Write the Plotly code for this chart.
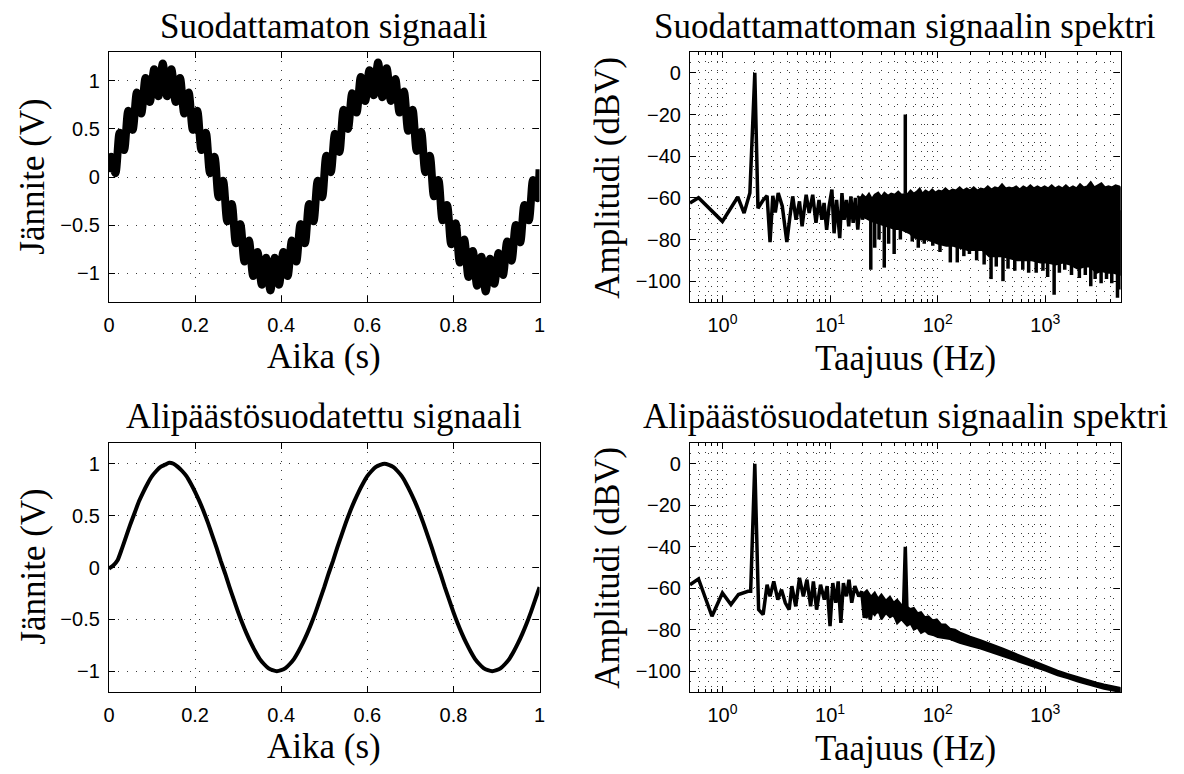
import plotly.graph_objects as go

# ---------------- data ----------------
# Unfiltered signal (time in s, voltage in V), read at the 50 Hz ripple peaks/troughs
t_raw = [0.0] + [round(0.005 + 0.01 * k, 3) for k in range(100)] + [1.0]
v_raw = [0.05,
         0.21, 0.04, 0.46, 0.28, 0.69, 0.49, 0.88, 0.66, 1.03, 0.78, 1.12, 0.84, 1.18, 0.84, 1.12, 0.78,
         1.03, 0.66, 0.88, 0.49, 0.69, 0.28, 0.46, 0.04, 0.21,
         -0.21, -0.04, -0.46, -0.28, -0.69, -0.49, -0.88, -0.66, -1.03, -0.78, -1.12, -0.84, -1.18,
         -0.84, -1.12, -0.78, -1.03, -0.66, -0.88, -0.49, -0.69, -0.28, -0.46, -0.04, -0.21,
         0.22, 0.05, 0.45, 0.26, 0.70, 0.50, 0.87, 0.67, 1.04, 0.79, 1.11, 0.85, 1.19, 0.83, 1.13, 0.79,
         1.02, 0.67, 0.89, 0.48, 0.70, 0.27, 0.47, 0.05, 0.22,
         -0.20, -0.03, -0.45, -0.29, -0.70, -0.48, -0.89, -0.65, -1.04, -0.77, -1.13, -0.83, -1.19,
         -0.85, -1.11, -0.79, -1.02, -0.67, -0.87, -0.50, -0.68, -0.29, -0.45, -0.03, -0.22,
         0.08]

# Low-pass filtered signal
t_filt = [round(0.01 * k, 2) for k in range(101)]
v_filt = [-0.01, 0.02, 0.07, 0.18, 0.30, 0.42, 0.53, 0.64, 0.73, 0.81, 0.88, 0.93, 0.97, 0.99, 1.01,
          1.00, 0.97, 0.93, 0.88, 0.81, 0.73, 0.64, 0.54, 0.43, 0.31, 0.19, 0.06, -0.06, -0.19, -0.31,
          -0.43, -0.54, -0.64, -0.73, -0.81, -0.88, -0.93, -0.97, -0.99, -1.00, -0.99, -0.97, -0.93,
          -0.88, -0.81, -0.73, -0.64, -0.54, -0.43, -0.31, -0.19, -0.06, 0.06, 0.19, 0.31, 0.43, 0.54,
          0.64, 0.73, 0.81, 0.88, 0.93, 0.97, 0.99, 1.00, 0.99, 0.97, 0.93, 0.88, 0.81, 0.73, 0.64,
          0.54, 0.43, 0.31, 0.19, 0.06, -0.06, -0.19, -0.31, -0.43, -0.54, -0.64, -0.73, -0.81, -0.88,
          -0.93, -0.97, -0.99, -1.00, -0.99, -0.97, -0.93, -0.88, -0.81, -0.73, -0.64, -0.54, -0.43,
          -0.31, -0.19]

# Spectrum of unfiltered signal (Hz, dBV): resolved low-frequency part
spec1_f = [0.5, 0.6, 1.0, 1.39, 1.59, 1.8, 2.0, 2.14, 2.4, 2.6, 2.77, 2.94, 3.1, 3.3, 3.6, 3.97, 4.24,
           4.5, 4.83, 5.2, 5.5, 6.0, 6.4, 6.9, 7.4, 7.9, 8.4, 8.8, 9.3, 9.8, 10.4, 10.9, 11.5, 12.3,
           12.9, 13.5, 14.2, 14.9, 15.6, 16.4, 17.2, 18.1, 19.1, 20.0, 21.0]
spec1_db = [-62.5, -60, -71.3, -59.6, -67.3, -57.7, 0, -65, -61, -59, -81.3, -59, -67, -57.7, -64,
            -81.2, -69, -59.3, -70.5, -61.7, -73.7, -58.5, -67.3, -58.5, -72, -61, -70.5, -62.5,
            -75.3, -64, -56, -77, -61, -79.3, -57.7, -70.5, -61, -73.7, -59.3, -72, -60, -75.3,
            -59.3, -70.5, -60]
# dense noise floor: upper envelope
env1_top_f = [18, 19, 20, 21.5, 23, 24.5, 26, 28, 30, 32, 34.5, 37, 40, 43, 46, 53, 56, 60, 64, 68,
              72, 77, 83, 89, 95, 102, 110, 118, 127, 137, 148, 160, 172, 186, 200, 216, 233, 251,
              271, 292, 315, 340, 367, 396, 427, 460, 497, 536, 578, 624, 673, 726, 783, 845, 912,
              984, 1061, 1145, 1235, 1333, 1438, 1551, 1674, 1806, 1948, 2102, 2268, 2447, 2640,
              2848, 3073, 3315, 3577, 3859, 4163, 4492, 4846, 5000]
env1_top_db = [-59, -61, -58.5, -60, -58, -60.5, -58.5, -57.5, -59.5, -57.5, -59, -58, -58.5, -57,
               -58.5, -58, -56.5, -58, -57, -55.5, -58, -56.5, -57.5, -56, -57.5, -56.5, -57, -55.5,
               -57, -56, -56.5, -55, -56.5, -55.5, -56.5, -55, -56.5, -55.5, -56, -54.5, -56, -55,
               -55.5, -53.5, -55.5, -55, -55.5, -54.5, -56, -54.5, -55.5, -54, -55.5, -54.5, -55.5,
               -54.5, -55.5, -54, -55.5, -54.5, -55.5, -54, -55.5, -54.5, -55.5, -53.5, -55, -54.5,
               -52.5, -55, -54, -53, -55, -54.5, -55, -54, -54.5, -55]
# dense noise floor: lower envelope
env1_bot_f = [18, 20, 22, 24, 27, 30, 35, 40, 45, 55, 60, 70, 80, 90, 100, 120, 140, 160, 190, 220,
              260, 300, 350, 400, 470, 550, 650, 750, 900, 1050, 1250, 1450, 1700, 2000, 2300,
              2600, 3000, 3300, 3800, 4300, 5000]
env1_bot_db = [-66, -69, -70, -71, -72, -73, -74, -75, -75, -77, -79, -80, -80, -81, -82, -83, -83,
               -84, -85, -85, -85, -88, -88, -88, -89, -90, -90, -90, -91, -91, -92, -91, -92, -94,
               -93, -93, -96, -95, -96, -96, -97]
# deep downward noise spikes
spike1_f = [23.9, 26, 28.5, 31.9, 35, 39.4, 45, 58, 66, 75, 90, 105, 131, 152, 175, 197, 230, 270,
            313, 350, 404, 450, 520, 617, 700, 822, 950, 1050, 1207, 1350, 1514, 1750, 2070, 2350,
            2642, 2900, 3296, 3700, 4140, 4680, 4900]
spike1_db = [-94.5, -84, -80, -93.5, -82, -87, -80, -81, -84, -82, -83, -86, -91, -91, -88, -87, -90,
             -92, -99, -93, -100, -94, -95, -94.5, -96, -96, -95, -98, -106.5, -96, -94.5, -97,
             -98.5, -97, -102.5, -99, -101, -99, -101, -108, -104]
# 50 Hz interference peak
peak1_f = [50]
peak1_db = [-20]

# Spectrum of filtered signal
spec2_f = [0.5, 0.6, 0.8, 1.0, 1.2, 1.41, 1.73, 1.83, 2.0, 2.17, 2.39, 2.6, 2.77, 3.0, 3.27, 3.54,
           3.84, 4.17, 4.42, 4.8, 5.2, 5.65, 6.1, 6.6, 7.0, 7.5, 8.16, 8.85, 9.4, 10.0, 10.6, 11.3,
           11.9, 12.6, 13.3, 14.2, 15.0, 15.9, 17.0, 18.5, 19.7, 20.8, 22, 23.6, 25.5, 27.7, 30,
           32.7, 36, 40, 44.6, 48, 50, 52, 55, 58, 62, 66]
spec2_db = [-58.3, -55.5, -73.5, -62.3, -67.9, -63, -61.5, -61.5, 0, -70.3, -72.7, -58.3, -63.9,
            -56.7, -65.5, -60.7, -67, -70.3, -59, -68.7, -55, -63.9, -55.9, -68.7, -56.7, -70.3,
            -58.3, -65.5, -59, -78.3, -57.5, -67, -56.7, -76.7, -57.5, -63.9, -55.9, -67, -59,
            -63.9, -61.5, -74.3, -63.9, -75.1, -65.5, -71.9, -67, -70.3, -69.5, -73.5, -71, -72,
            -40, -73.5, -70, -77, -73, -79]
env2_top_f = [20, 22, 24, 26, 28, 30, 33, 36, 39, 42, 46, 52, 56, 60, 65, 70, 76, 82, 90, 98, 108,
              118, 130, 145, 160, 180, 200, 250, 320, 400, 500, 650, 800, 1000, 1300, 1600, 2000,
              2500, 3000, 3500, 4000, 4500, 5000]
env2_top_db = [-63, -61, -64, -62, -65, -63, -66, -64, -67, -65.5, -68, -69, -70, -69.5, -72, -71.5,
               -74, -73.5, -75.5, -75, -77.5, -77.5, -79.5, -80, -81.3, -82.5, -83.3, -85, -87, -89,
               -91.1, -93.5, -95.4, -97.3, -99.7, -101.3, -102.9, -104.4, -105.5, -106.4, -107.1,
               -107.6, -108]
env2_bot_f = [20, 22, 24, 26, 28, 30, 33, 36, 39, 42, 46, 52, 56, 60, 65, 70, 76, 82, 90, 100, 110,
              130, 160, 200, 250, 320, 400, 500, 650, 800, 1000, 1300, 1600, 2000, 2500, 3000, 3500,
              4000, 4500, 5000]
env2_bot_db = [-70, -74, -71, -73, -70.5, -75, -72, -74, -73, -77, -75, -78, -77, -80, -79, -81.5,
               -80.5, -82, -82.5, -83.5, -83.8, -84.5, -86.3, -87.7, -89, -91, -92.6, -94.3, -96.5,
               -98, -99.7, -101.9, -103.3, -104.9, -106.4, -107.5, -108.4, -109.1, -109.6, -110]

titles = ["Suodattamaton signaali", "Suodattamattoman signaalin spektri",
          "Alipäästösuodatettu signaali", "Alipäästösuodatetun signaalin spektri"]
time_ticks = [0, 0.2, 0.4, 0.6, 0.8, 1]
volt_ticks = [-1, -0.5, 0, 0.5, 1]
freq_ticks = [1, 10, 100, 1000]
freq_ticktext = ["10<sup>0</sup>", "10<sup>1</sup>", "10<sup>2</sup>", "10<sup>3</sup>"]
db_ticks = [-100, -80, -60, -40, -20, 0]

# ---------------- figure ----------------
W, H = 1184, 774
fig = go.Figure()

BLACK = "black"
# top-left
fig.add_trace(go.Scatter(x=t_raw, y=v_raw, mode="lines", xaxis="x", yaxis="y",
                         line=dict(color=BLACK, width=8, shape="spline", smoothing=0.9)))
# top-right
fig.add_trace(go.Scatter(x=env1_top_f + env1_bot_f[::-1], y=env1_top_db + env1_bot_db[::-1],
                         mode="lines", fill="toself", fillcolor=BLACK, xaxis="x2", yaxis="y2",
                         line=dict(color=BLACK, width=2)))
sx, sy = [], []
for f, d in zip(spike1_f, spike1_db):
    sx += [f, f, None]
    sy += [-66, d, None]
for f, d in zip(peak1_f, peak1_db):
    sx += [f, f, None]
    sy += [-58, d, None]
fig.add_trace(go.Scatter(x=sx, y=sy, mode="lines", xaxis="x2", yaxis="y2",
                         line=dict(color=BLACK, width=3.5)))
fig.add_trace(go.Scatter(x=spec1_f, y=spec1_db, mode="lines", xaxis="x2", yaxis="y2",
                         line=dict(color=BLACK, width=3.5)))
# bottom-left
fig.add_trace(go.Scatter(x=t_filt, y=v_filt, mode="lines", xaxis="x3", yaxis="y3",
                         line=dict(color=BLACK, width=4, shape="spline", smoothing=0.6)))
# bottom-right
fig.add_trace(go.Scatter(x=env2_top_f + env2_bot_f[::-1], y=env2_top_db + env2_bot_db[::-1],
                         mode="lines", fill="toself", fillcolor=BLACK, xaxis="x4", yaxis="y4",
                         line=dict(color=BLACK, width=2)))
fig.add_trace(go.Scatter(x=spec2_f, y=spec2_db, mode="lines", xaxis="x4", yaxis="y4",
                         line=dict(color=BLACK, width=3.5)))

# plot boxes in pixels
L1, R1, L2, R2 = 104, 539, 691, 1126
T1, B1, T2, B2 = 52, 302, 443, 692

def px_x(a, b):
    return [a / W, b / W]

def px_y(top, bot):
    return [1 - bot / H, 1 - top / H]

tickfont = dict(family="Liberation Sans, Arial, sans-serif", size=20, color=BLACK)
GRID = "#3a3a3a"
DASH = "1px,8px"
common = dict(showline=True, linecolor=BLACK, linewidth=1.2, mirror="ticks", ticks="inside",
              ticklen=6, tickwidth=1, tickcolor=BLACK, showgrid=True, gridcolor=GRID,
              griddash=DASH, gridwidth=1, zeroline=False, tickfont=tickfont, fixedrange=True)
xc = dict(common, ticklabelstandoff=5)
yc = dict(common, ticklabelstandoff=4)
minor_log = dict(dtick="D1", ticks="inside", ticklen=3, tickcolor=BLACK, showgrid=True,
                 gridcolor=GRID, griddash=DASH, gridwidth=1)
minor_db = dict(dtick=5, ticks="", showgrid=True, gridcolor=GRID, griddash=DASH, gridwidth=1)

fig.update_layout(
    width=W, height=H, margin=dict(l=0, r=0, t=0, b=0), showlegend=False,
    paper_bgcolor="white", plot_bgcolor="white",
    xaxis=dict(domain=px_x(L1, R1), anchor="y", range=[0, 1], tickvals=time_ticks, **xc),
    yaxis=dict(domain=px_y(T1, B1), anchor="x", range=[-1.3, 1.3], tickvals=volt_ticks, **yc),
    xaxis2=dict(domain=px_x(L2, R2), anchor="y2", type="log", range=[-0.30103, 3.69897],
                tickvals=freq_ticks, ticktext=freq_ticktext, minor=minor_log, **xc),
    yaxis2=dict(domain=px_y(T1, B1), anchor="x2", range=[-110, 10], tickvals=db_ticks,
                minor=minor_db, **yc),
    xaxis3=dict(domain=px_x(L1, R1), anchor="y3", range=[0, 1], tickvals=time_ticks, **xc),
    yaxis3=dict(domain=px_y(T2, B2), anchor="x3", range=[-1.2, 1.2], tickvals=volt_ticks, **yc),
    xaxis4=dict(domain=px_x(L2, R2), anchor="y4", type="log", range=[-0.30103, 3.69897],
                tickvals=freq_ticks, ticktext=freq_ticktext, minor=minor_log, **xc),
    yaxis4=dict(domain=px_y(T2, B2), anchor="x4", range=[-110, 10], tickvals=db_ticks,
                minor=minor_db, **yc),
)

serif = dict(family="Liberation Serif, Times New Roman, serif", size=35, color=BLACK)

def ann(text, xpx, ypx, angle=0):
    fig.add_annotation(text=text, x=xpx / W, y=1 - ypx / H, xref="paper", yref="paper",
                       showarrow=False, textangle=angle, font=serif,
                       xanchor="center", yanchor="middle")

cx1, cx2 = (L1 + R1) / 2, (L2 + R2) / 2
ann(titles[0], cx1, 26)
ann(titles[1], cx2, 26)
ann(titles[2], cx1, 416)
ann(titles[3], cx2, 416)
ann("Aika (s)", cx1, 356)
ann("Taajuus (Hz)", cx2, 358)
ann("Aika (s)", cx1, 746)
ann("Taajuus (Hz)", cx2, 748)
ann("Jännite (V)", 27, 177, -90)
ann("Jännite (V)", 27, 567, -90)
ann("Amplitudi (dBV)", 607, 178, -90)
ann("Amplitudi (dBV)", 607, 568, -90)

# remove the default page margin so the figure sits at the window origin
fig.write_html("out.html", config={"displayModeBar": False},
               post_script="document.body.style.margin='0';")
